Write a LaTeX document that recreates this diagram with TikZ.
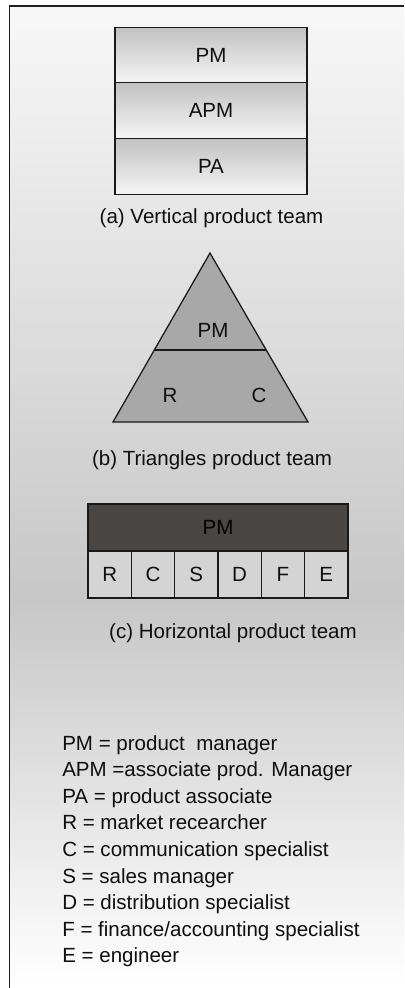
\documentclass[tikz,border=0pt]{standalone}
\usepackage{fontspec}
\setmainfont{Liberation Sans}
\usetikzlibrary{positioning,calc}
\definecolor{barGrey}{RGB}{74,70,67}

\begin{document}
\begin{tikzpicture}[
    x=0.025cm, y=-0.025cm,
    every node/.style={font=\fontsize{14.6}{17}\selectfont, text=black!94, inner sep=0pt},
    frame/.style={draw=black!88, line width=1.4pt},
    tier/.style={draw=black!90, line width=0.9pt, top color=black!24, bottom color=black!4,
      minimum width=4.8cm, minimum height=1.39cm},
    wedge/.style={draw=black!90, line width=0.9pt, fill=black!34, line join=miter},
    head bar/.style={draw=black!90, line width=0.9pt, fill=barGrey,
      minimum width=6.5cm, minimum height=1.175cm, text=black},
    cell/.style={draw=black!90, line width=0.9pt, fill=black!17,
      minimum width=1.083cm, minimum height=1.175cm},
    caption/.style={},
    legend/.style={anchor=base west}
  ]
    \useasboundingbox (0,0) rectangle (404,988);

    % page background: light at top and bottom, grey in the middle
    \shade[top color=black!3, bottom color=black!22] (9.5,6) rectangle (404,600);
    \shade[top color=black!22, bottom color=white] (9.5,600) rectangle (404,988);
    \draw[frame] (9.5,988) |- (404,6);

    % (a) vertical team
    \node[tier] (pmTier) at (211,55.5) {\raisebox{-3pt}{PM}};
    \node[tier] (apmTier) at (211,110.5) {\raisebox{-2pt}{APM}};
    \node[tier] (paTier) at (211,166.5) {\raisebox{-1pt}{PA}};
    \node[caption] (capA) at (211.5,218) {(a) Vertical product team};

    % (b) triangle team
    \coordinate (apex) at (210,253);
    \coordinate (baseL) at (113,422);
    \coordinate (baseR) at (308,422);
    \filldraw[wedge] (apex) -- (baseR) -- (baseL) -- cycle;
    \draw[wedge] ($(apex)!0.574!(baseL)$) -- ($(apex)!0.574!(baseR)$);
    \node (triPM) at (213,330) {PM};
    \node (triR) at (170,395) {R};
    \node (triC) at (259,395) {C};
    \node[caption] (capB) at (212,460) {(b) Triangles product team};

    % (c) horizontal team
    \node[head bar] (pmBar) at (218,527.5) {\raisebox{-5pt}{PM}};
    \foreach \lbl [count=\i] in {R,C,S,D,F,E}
      \node[cell] (cell\lbl) at ({88+43.33*(\i-0.5)},574.5) {\lbl};
    \node[caption] (capC) at (233,633) {(c) Horizontal product team};

    % legend
    \foreach \txt [count=\i] in {PM = product\ \ manager, APM =associate prod. Manager,
        PA = product associate, R = market recearcher, C = communication specialist,
        S = sales manager, D = distribution specialist,
        F = finance/accounting specialist, E = engineer}
      \node[legend] (key\i) at (62,{750+26.6*(\i-1)}) {\txt};
\end{tikzpicture}
\end{document}
